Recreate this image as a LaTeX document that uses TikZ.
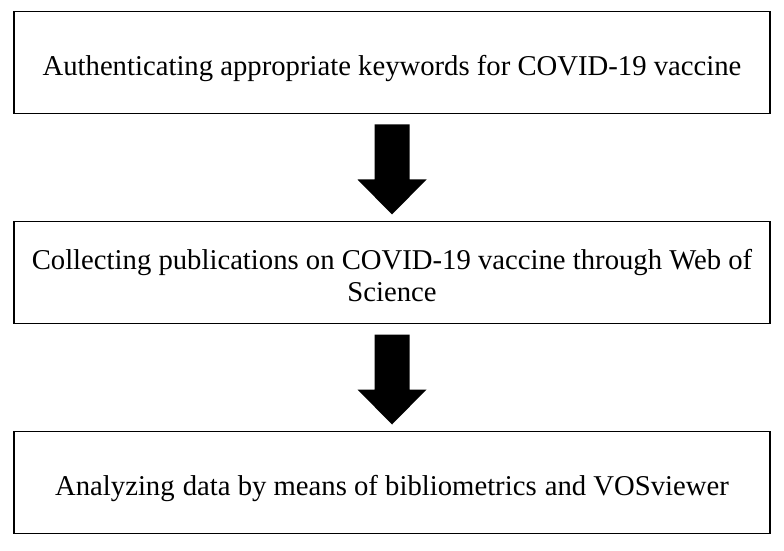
\documentclass[tikz,border=0pt]{standalone}
\usepackage{fontspec}
\setmainfont{Liberation Serif}
\usepackage{tikz}
\usetikzlibrary{positioning, calc}

\begin{document}
\begin{tikzpicture}[x=1bp, y=-1bp,
        node distance=108bp,
        stage/.style={draw, line width=1.6bp, minimum width=756bp, minimum height=102bp,
            align=center, inner sep=0pt, outer sep=0pt,
            text height=25.5bp, text depth=0pt,
            font=\fontsize{28.8}{32}\selectfont},
        bigarrow/.style={fill=black}]

        \useasboundingbox (0,0) rectangle (784,551);

        \node[stage] (keywords) at (392,62.5) {Authenticating appropriate keywords for COVID-19 vaccine};
        \node[stage, below=of keywords, text height=57.5bp] (collect) {Collecting publications on COVID-19 vaccine through Web of\\Science};
        \node[stage, below=of collect] (analyse) {Analyzing\hspace{1bp} data by means of bibliometrics\hspace{1bp} and VOSviewer};

        % block arrows between the stages
        \foreach \from in {keywords, collect}
            \fill[bigarrow] ($(\from.south)+(-17.5,11)$) -- ++(35,0) -- ++(0,55) -- ++(17,0)
                -- ++(-34.5,35) -- ++(-34.5,-35) -- ++(17,0) -- cycle;
\end{tikzpicture}
\end{document}
